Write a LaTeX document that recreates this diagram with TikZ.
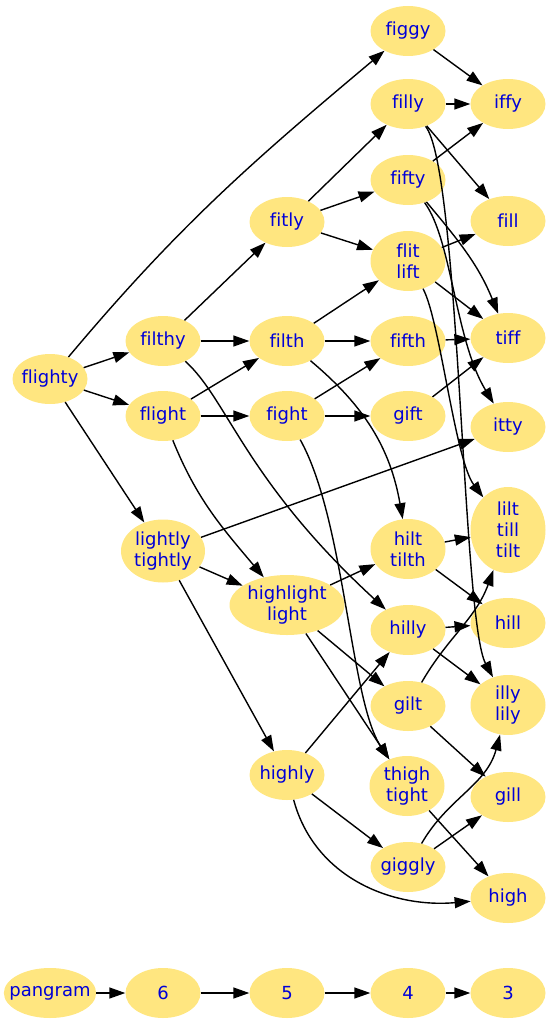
\documentclass[tikz,border=0pt]{standalone}
\usepackage{fontspec}
\newfontfamily\wordfont[Ligatures=NoCommon]{DejaVu Sans}
\usetikzlibrary{shapes.geometric,arrows.meta}
\definecolor{wfill}{HTML}{FFE680}
\definecolor{wtext}{HTML}{0000D8}
\begin{document}
\begin{tikzpicture}[x=1pt,y=1pt,
  word/.style={ellipse, fill=wfill, inner xsep=-8pt, inner ysep=0pt,
    minimum width=75pt, minimum height=50pt, align=center, text=wtext,
    font=\wordfont\fontsize{18}{21}\selectfont},
  word2/.style={word, minimum height=60pt},
  edge/.style={draw=black, line width=1.4pt, -{Triangle[length=16pt,width=11pt]}}]
\useasboundingbox (0,0) rectangle (550,-1025);
% nodes
\node[word] (figgy) at (408,-31) {figgy};
\node[word] (filly) at (408,-104) {filly};
\node[word] (iffy) at (508,-104) {iffy};
\node[word] (fifty) at (408,-180) {fifty};
\node[word] (fitly) at (287,-222) {fitly};
\node[word] (fill) at (508,-221) {fill};
\node[word2] (flit) at (408,-261) {flit\\lift};
\node[word] (filthy) at (163,-341) {filthy};
\node[word] (filth) at (287,-341) {filth};
\node[word] (fifth) at (408,-341) {fifth};
\node[word] (tiff) at (508,-338) {tiff};
\node[word] (flighty) at (50,-379) {flighty};
\node[word] (flight) at (163,-416) {flight};
\node[word] (fight) at (287,-416) {fight};
\node[word] (gift) at (408,-416) {gift};
\node[word] (itty) at (508,-427) {itty};
\node[word, minimum height=86pt] (lilt) at (508,-530) {lilt\\till\\tilt};
\node[word2, minimum width=84pt, minimum height=63pt] (lightly) at (163,-551) {lightly\\tightly};
\node[word2] (hilt) at (408,-549) {hilt\\tilth};
\node[word2, minimum width=115pt] (highlight) at (287,-605) {highlight\\light};
\node[word] (hill) at (508,-623) {hill};
\node[word] (hilly) at (408,-630) {hilly};
\node[word] (gilt) at (408,-706) {gilt};
\node[word2] (illy) at (508,-705) {illy\\lily};
\node[word] (highly) at (287,-775) {highly};
\node[word2] (thigh) at (407,-786) {thigh\\tight};
\node[word] (gill) at (508,-797) {gill};
\node[word] (giggly) at (408,-867) {giggly};
\node[word] (high) at (508,-898) {high};
\node[word] (pangram) at (50,-993) {pangram};
\node[word] (r6) at (163,-993) {6};
\node[word] (r5) at (287,-993) {5};
\node[word] (r4) at (408,-993) {4};
\node[word] (r3) at (508,-993) {3};
% edges
\draw[edge] (flighty) to[out=50,in=-140] (figgy);
\draw[edge] (flighty) -- (filthy);
\draw[edge] (flighty) -- (flight);
\draw[edge] (flighty) -- (lightly);
\draw[edge] (filthy) -- (fitly);
\draw[edge] (filthy) -- (filth);
\draw[edge] (filthy) .. controls (228,-400) and (245,-480) .. (hilly);
\draw[edge] (flight) -- (filth);
\draw[edge] (flight) -- (fight);
\draw[edge] (flight) to[out=-68,in=130] (highlight);
\draw[edge] (fitly) -- (filly);
\draw[edge] (fitly) -- (fifty);
\draw[edge] (fitly) -- (flit);
\draw[edge] (filth) -- (flit);
\draw[edge] (filth) -- (fifth);
\draw[edge] (filth) to[out=-40,in=100] (hilt);
\draw[edge] (fight) -- (fifth);
\draw[edge] (fight) -- (gift);
\draw[edge] (fight) .. controls (345,-520) and (350,-700) .. (thigh);
\draw[edge] (lightly) -- (itty);
\draw[edge] (lightly) -- (highlight);
\draw[edge] (lightly) -- (highly);
\draw[edge] (highlight) -- (hilt);
\draw[edge] (highlight) -- (gilt);
\draw[edge] (highlight) -- (thigh);
\draw[edge] (highly) -- (hilly);
\draw[edge] (highly) -- (giggly);
\draw[edge] (highly) to[out=-75,in=-175] (high);
\draw[edge] (figgy) -- (iffy);
\draw[edge] (filly) -- (iffy);
\draw[edge] (fifty) -- (iffy);
\draw[edge] (filly) -- (fill);
\draw[edge] (filly) .. controls (460,-170) and (462,-620) .. (illy);
\draw[edge] (fifty) to[out=-50,in=112] (tiff);
\draw[edge] (fifty) .. controls (452,-240) and (455,-340) .. (itty);
\draw[edge] (flit) -- (fill);
\draw[edge] (flit) -- (tiff);
\draw[edge] (flit) .. controls (440,-320) and (455,-460) .. (lilt);
\draw[edge] (fifth) -- (tiff);
\draw[edge] (gift) -- (tiff);
\draw[edge] (hilt) -- (lilt);
\draw[edge] (hilt) -- (hill);
\draw[edge] (hilly) -- (hill);
\draw[edge] (hilly) -- (illy);
\draw[edge] (gilt) to[out=60,in=-110] (lilt);
\draw[edge] (gilt) -- (gill);
\draw[edge] (giggly) to[out=60,in=-105] (illy);
\draw[edge] (giggly) -- (gill);
\draw[edge] (thigh) -- (high);
\draw[edge] (pangram) -- (r6);
\draw[edge] (r6) -- (r5);
\draw[edge] (r5) -- (r4);
\draw[edge] (r4) -- (r3);
\end{tikzpicture}
\end{document}
